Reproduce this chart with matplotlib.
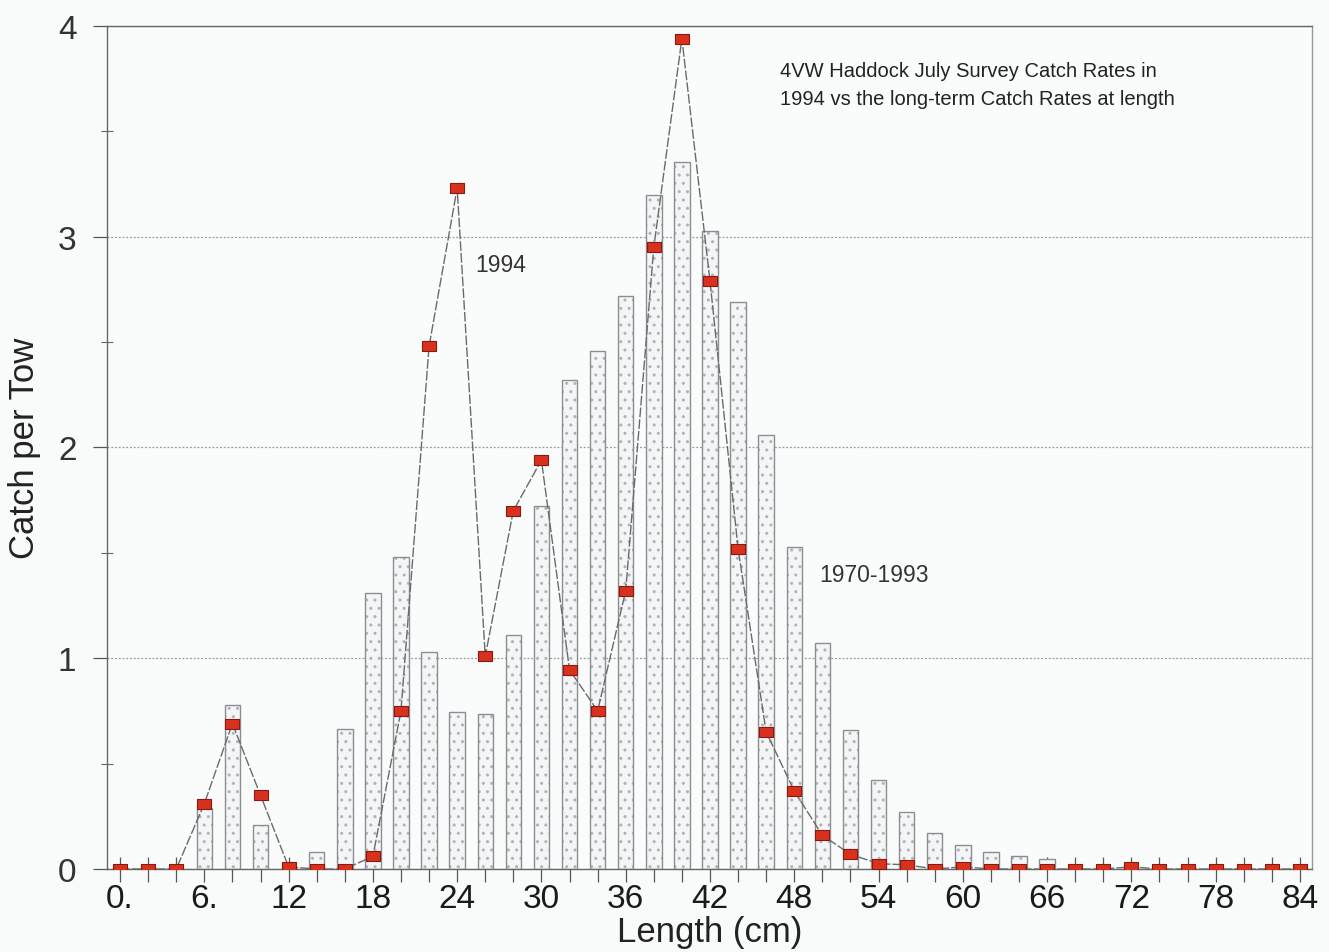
import matplotlib
matplotlib.use("Agg")
import matplotlib.pyplot as plt
from matplotlib.ticker import MultipleLocator, FixedLocator

plt.rcParams['font.family'] = ['Liberation Sans', 'DejaVu Sans']

# ---- data ----
lengths = [0, 2, 4, 6, 8, 10, 12, 14, 16, 18, 20, 22, 24, 26, 28, 30, 32, 34, 36, 38, 40,
           42, 44, 46, 48, 50, 52, 54, 56, 58, 60, 62, 64, 66, 68, 70, 72, 74, 76, 78, 80, 82, 84]
long_term = [0, 0, 0, 0.29, 0.78, 0.21, 0, 0.08, 0.665, 1.31, 1.48, 1.03, 0.745, 0.735, 1.11,
             1.72, 2.32, 2.46, 2.72, 3.20, 3.355, 3.025, 2.69, 2.06, 1.53, 1.07, 0.66, 0.42,
             0.27, 0.17, 0.115, 0.08, 0.06, 0.047, 0, 0, 0, 0, 0, 0, 0, 0, 0]
catch_1994 = [0, 0, 0, 0.31, 0.69, 0.35, 0.01, 0, 0, 0.06, 0.75, 2.48, 3.23, 1.01, 1.70,
              1.94, 0.945, 0.75, 1.32, 2.95, 3.94, 2.79, 1.52, 0.65, 0.37, 0.16, 0.07, 0.025,
              0.02, 0, 0.01, 0, 0, 0, 0, 0, 0.01, 0, 0, 0, 0, 0, 0]
xtick_pos = [0, 6, 12, 18, 24, 30, 36, 42, 48, 54, 60, 66, 72, 78, 84]
xtick_labels = ["0.", "6.", "12", "18", "24", "30", "36", "42", "48", "54", "60", "66", "72", "78", "84"]
ytick_pos = [0, 1, 2, 3, 4]
title_line1 = "4VW Haddock July Survey Catch Rates in"
title_line2 = "1994 vs the long-term Catch Rates at length"

# ---- figure ----
fig = plt.figure(figsize=(13.29, 9.53), dpi=100)
fig.patch.set_facecolor('#f9fbfb')
ax = fig.add_axes([0.0805, 0.0871, 0.9065, 0.8846])
ax.set_facecolor('#fafcfc')

# bars: hatched fill + outline
ax.bar(lengths, long_term, width=1.1, color='#f3f5f6', edgecolor='#b0b4b8',
       hatch='..', linewidth=0, zorder=2)
ax.bar(lengths, long_term, width=1.1, fill=False, edgecolor='#8a8e92',
       linewidth=1.0, zorder=3)

# 1994 line with red rectangular markers
rect = [(-1, -0.72), (1, -0.72), (1, 0.72), (-1, 0.72), (-1, -0.72)]
ax.plot(lengths, catch_1994, color='#6a6a6a', linewidth=1.0, dashes=(7, 1.5), zorder=4)
ax.plot(lengths, catch_1994, linestyle='none', marker=rect, markersize=10.5,
        markerfacecolor='#d8321e', markeredgecolor='#8a1a10', markeredgewidth=0.8, zorder=5)

ax.set_xlim(-0.93, 84.84)
ax.set_ylim(0, 4)

ax.set_xticks(xtick_pos)
ax.set_xticklabels(xtick_labels)
ax.xaxis.set_minor_locator(MultipleLocator(2))
ax.set_yticks(ytick_pos)
ax.yaxis.set_minor_locator(MultipleLocator(0.5))

ax.tick_params(axis='x', which='both', direction='inout', length=18, width=0.9,
               color='#555555', labelsize=24, pad=1, labelcolor='#1a1a1a')
ax.tick_params(axis='y', which='major', direction='out', length=10, width=0.9,
               color='#555555', labelsize=24, pad=12, labelcolor='#333333')
ax.tick_params(axis='y', which='minor', direction='inout', length=8, width=0.8,
               color='#666666')

ax.grid(axis='y', which='major', linestyle=(0, (1.5, 1.5)), color='#9a9a9a',
        linewidth=0.9, zorder=1)
ax.set_axisbelow(True)

for side in ['left', 'right', 'top', 'bottom']:
    ax.spines[side].set_color('#666666')
    ax.spines[side].set_linewidth(1.0)
ax.spines['right'].set_color('#9a9a9a')

ax.set_xlabel("Length (cm)", fontsize=25, color='#222222', labelpad=1)
ax.set_ylabel("Catch per Tow", fontsize=25, color='#222222', labelpad=12)

ax.text(25.3, 2.87, "1994", fontsize=16.5, color='#333333', va='center', ha='left', zorder=6)
ax.text(49.8, 1.395, "1970-1993", fontsize=16.5, color='#333333', va='center', ha='left', zorder=6)
ax.text(46.97, 3.787, title_line1, fontsize=14.5, color='#222222', va='center', ha='left', zorder=6)
ax.text(46.97, 3.658, title_line2, fontsize=14.5, color='#222222', va='center', ha='left', zorder=6)

fig.savefig("out.png", dpi=100, facecolor=fig.get_facecolor())
